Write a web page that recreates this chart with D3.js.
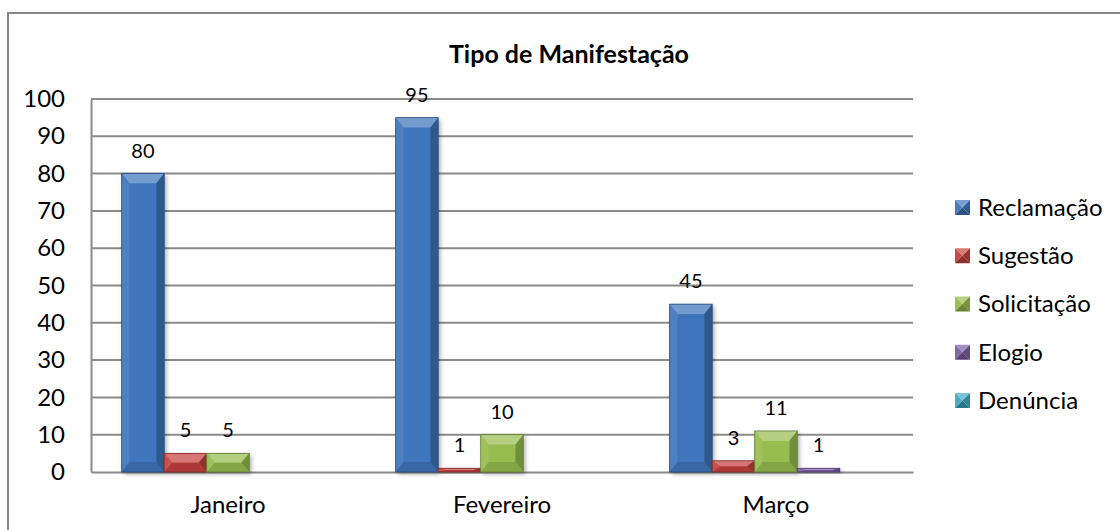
<!DOCTYPE html>
<html><head><meta charset="utf-8">
<script src="https://cdn.jsdelivr.net/npm/d3@7"></script>
<style>html,body{margin:0;padding:0;background:#fff;}svg{display:block;}</style>
</head><body>
<svg id="c" width="1120" height="530"></svg>
<script>
const categories = ["Janeiro", "Fevereiro", "Março"];
const seriesNames = ["Reclamação", "Sugestão", "Solicitação", "Elogio", "Denúncia"];
const reclamacao = [80, 95, 45];
const sugestao = [5, 1, 3];
const solicitacao = [5, 10, 11];
const elogio = [0, 0, 1];
const denuncia = [0, 0, 0];
const yTicks = [0, 10, 20, 30, 40, 50, 60, 70, 80, 90, 100];
const colors = ["#3f75bc", "#c4413e", "#97bd4f", "#7c5ea6", "#3fa9c4"];
const title = "Tipo de Manifestação";

const seriesValues = [reclamacao, sugestao, solicitacao, elogio, denuncia];
const FONT = "Lato, 'Open Sans', sans-serif";
const svg = d3.select("#c");

// chart border
svg.append("rect").attr("x", 8).attr("y", 13).attr("width", 1130).attr("height", 540)
  .attr("fill", "#fff").attr("stroke", "#878787").attr("stroke-width", 2);

const plot = {left: 91, right: 913, top: 99, bottom: 472};
const y = d3.scaleLinear().domain([0, 100]).range([plot.bottom, plot.top]);
const x0 = d3.scaleBand().domain(categories).range([plot.left, plot.right]).paddingInner(0).paddingOuter(0);
const gapFrac = 0.112;
const x1 = d3.scaleBand().domain(seriesNames)
  .range([x0.bandwidth() * gapFrac, x0.bandwidth() * (1 - gapFrac)]).padding(0);

// defs: shadow
const defs = svg.append("defs");
const f = defs.append("filter").attr("id", "sh").attr("x", "-20%").attr("y", "-20%").attr("width", "150%").attr("height", "150%");
f.append("feDropShadow").attr("dx", 2).attr("dy", 2).attr("stdDeviation", 2).attr("flood-color", "#000").attr("flood-opacity", 0.35);

// gridlines
const grid = svg.append("g");
grid.selectAll("line").data(yTicks.filter(d => d > 0)).join("line")
  .attr("x1", plot.left).attr("x2", plot.right)
  .attr("y1", d => y(d)).attr("y2", d => y(d))
  .attr("stroke", "#8a8a8a").attr("stroke-width", 2);

// y axis
const yAxis = svg.append("g").attr("transform", `translate(${plot.left},0)`)
  .call(d3.axisLeft(y).tickValues(yTicks).tickSize(0).tickPadding(26));
yAxis.select(".domain").attr("stroke", "#8a8a8a").attr("stroke-width", 2);
yAxis.selectAll("text").attr("font-family", FONT).attr("font-size", 24).attr("fill", "#000");

// x axis
const xAxis = svg.append("g").attr("transform", `translate(0,${plot.bottom})`)
  .call(d3.axisBottom(x0).tickSize(0).tickPadding(24));
xAxis.select(".domain").attr("stroke", "#8a8a8a").attr("stroke-width", 2);
xAxis.selectAll("text").attr("font-family", FONT).attr("font-size", 24).attr("fill", "#000");

function shade(c, t, target) { return d3.interpolateRgb(c, target)(t); }

// bars
const data = [];
categories.forEach((cat, ci) => {
  seriesNames.forEach((s, si) => {
    data.push({cat, s, si, v: seriesValues[si][ci]});
  });
});

const barsG = svg.append("g");
data.filter(d => d.v > 0).forEach(d => {
  const bx = x0(d.cat) + x1(d.s);
  const bw = x1.bandwidth();
  const by = y(d.v);
  const bh = y(0) - by;
  const c = colors[d.si];
  const g = barsG.append("g");
  g.append("rect").attr("x", bx).attr("y", by).attr("width", bw).attr("height", bh)
    .attr("fill", c).attr("filter", "url(#sh)");
  const bvx = Math.min(8, bw / 2);
  const bvy = Math.min(10, bh / 2);
  const x2 = bx + bw, y2 = by + bh;
  // top bevel
  g.append("polygon").attr("points", [[bx, by], [x2, by], [x2 - bvx, by + bvy], [bx + bvx, by + bvy]].join(" "))
    .attr("fill", shade(c, 0.28, "#fff"));
  // left bevel
  g.append("polygon").attr("points", [[bx, by], [bx + bvx, by + bvy], [bx + bvx, y2 - bvy], [bx, y2]].join(" "))
    .attr("fill", shade(c, 0.08, "#fff"));
  // right bevel
  g.append("polygon").attr("points", [[x2, by], [x2, y2], [x2 - bvx, y2 - bvy], [x2 - bvx, by + bvy]].join(" "))
    .attr("fill", shade(c, 0.25, "#000"));
  // bottom bevel
  g.append("polygon").attr("points", [[bx, y2], [bx + bvx, y2 - bvy], [x2 - bvx, y2 - bvy], [x2, y2]].join(" "))
    .attr("fill", shade(c, 0.12, "#000"));
  if (bh > 2 * bvy + 1) {
    g.append("rect").attr("x", bx + bvx).attr("y", by + bvy).attr("width", bw - 2 * bvx).attr("height", bh - 2 * bvy)
      .attr("fill", c);
  }
  g.append("rect").attr("x", bx).attr("y", by).attr("width", bw).attr("height", bh)
    .attr("fill", "none").attr("stroke", shade(c, 0.35, "#000")).attr("stroke-width", 0.8);
  // label
  svg.append("text").attr("x", bx + bw / 2).attr("y", by - 16)
    .attr("text-anchor", "middle").attr("font-family", FONT).attr("font-size", 20).attr("fill", "#000")
    .text(d.v);
});

// title
svg.append("text").attr("x", 569).attr("y", 63).attr("text-anchor", "middle")
  .attr("font-family", FONT).attr("font-weight", "bold").attr("font-size", 25).attr("fill", "#000")
  .text(title);

// legend
const leg = svg.append("g");
seriesNames.forEach((s, i) => {
  const cy = 207.5 + i * 48.25;
  const lx = 955, sz = 15, ly = cy - sz / 2;
  const c = colors[i];
  const cx = lx + sz / 2;
  const g = leg.append("g");
  g.append("polygon").attr("points", [[lx, ly], [lx + sz, ly], [cx, cy]].join(" ")).attr("fill", shade(c, 0.3, "#fff"));
  g.append("polygon").attr("points", [[lx, ly], [cx, cy], [lx, ly + sz]].join(" ")).attr("fill", shade(c, 0.05, "#fff"));
  g.append("polygon").attr("points", [[lx + sz, ly], [lx + sz, ly + sz], [cx, cy]].join(" ")).attr("fill", shade(c, 0.22, "#000"));
  g.append("polygon").attr("points", [[lx, ly + sz], [cx, cy], [lx + sz, ly + sz]].join(" ")).attr("fill", shade(c, 0.3, "#000"));
  g.append("text").attr("x", 978).attr("y", cy).attr("dy", "0.35em")
    .attr("font-family", FONT).attr("font-size", 24).attr("fill", "#000").text(s);
});
</script>
</body></html>
